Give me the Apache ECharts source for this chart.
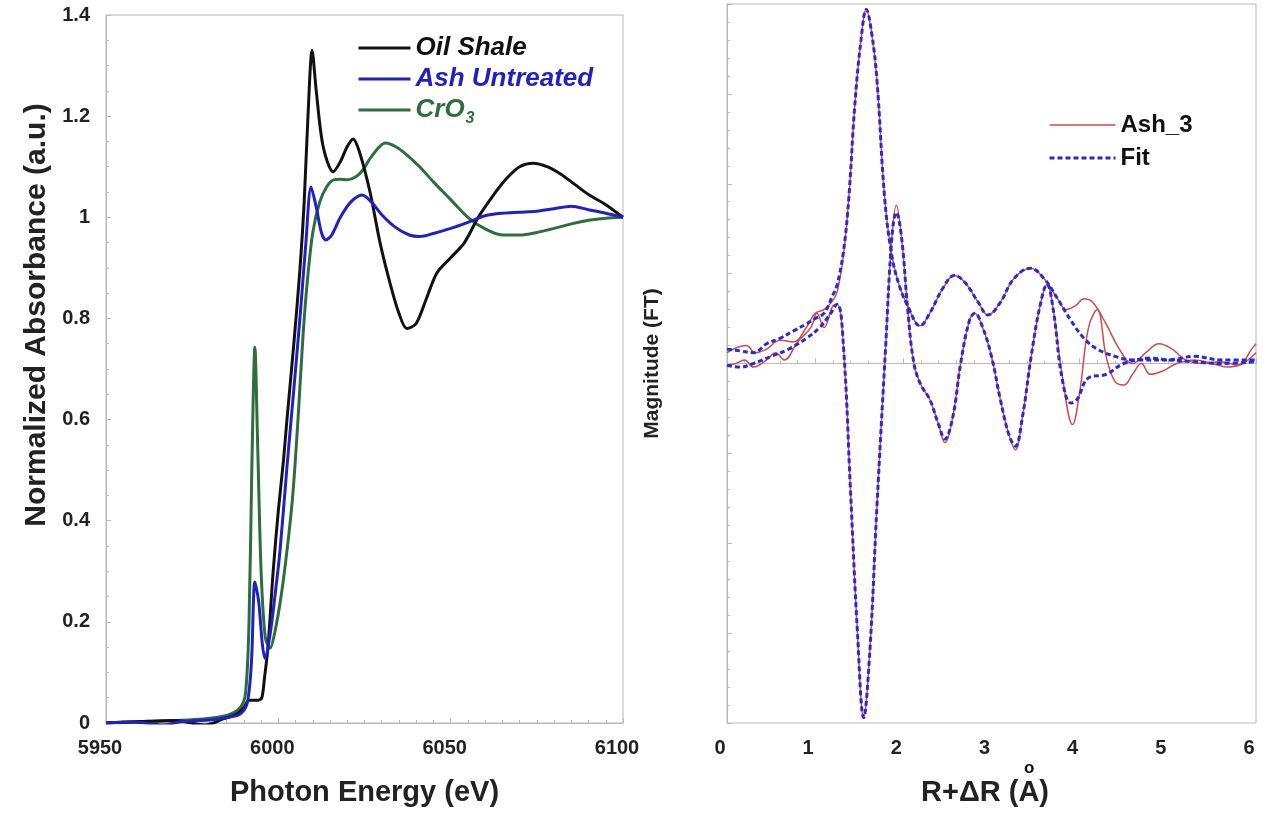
<!DOCTYPE html>
<html>
<head>
<meta charset="utf-8">
<script src="https://cdn.jsdelivr.net/npm/echarts@6/dist/echarts.min.js"></script>
<style>
html,body{margin:0;padding:0;background:#fff;}
#chart{width:1263px;height:814px;}
</style>
</head>
<body>
<div id="chart"></div>
<script>
// ---------- Left panel: XANES ----------
const oilShaleE = [5950,5960,5970,5978.7,5984,5988,5990,5991.5,5994,5995.2,5996,5997,5998.5,6000,6001.5,6002.5,6004.5,6006.3,6007.5,6008.6,6009.8,6011,6013,6015.9,6018,6020,6021.7,6023.5,6026.6,6029.5,6032.4,6035,6037.3,6040,6043,6046,6050,6054,6058,6062,6066,6070,6074,6078,6082,6086,6090,6095,6100];
const oilShale  = [0,0.003,0.005,-0.004,0.008,0.018,0.03,0.045,0.045,0.05,0.09,0.15,0.3,0.42,0.52,0.6,0.75,0.9,1.03,1.2,1.33,1.25,1.14,1.09,1.11,1.14,1.155,1.13,1.05,0.95,0.87,0.81,0.78,0.79,0.84,0.89,0.92,0.95,1.0,1.04,1.075,1.1,1.107,1.1,1.085,1.065,1.045,1.025,1.0];

const ashE = [5950,5958,5966.5,5972,5980,5986,5989,5991,5992.2,5993.2,5994.3,5995.3,5996.1,5997.5,5999,6000.5,6002.5,6004.5,6006.5,6008,6009.5,6011,6012.5,6013.8,6015.5,6018,6021,6024.3,6027,6030,6034,6038,6041,6045,6050,6055,6060,6065,6070,6075,6080,6085,6090,6095,6100];
const ashUntreated = [0,0.002,-0.004,0.003,0.006,0.012,0.018,0.04,0.12,0.279,0.24,0.16,0.128,0.17,0.25,0.342,0.506,0.66,0.82,0.95,1.06,1.02,0.97,0.955,0.965,1.0,1.03,1.044,1.03,1.005,0.98,0.965,0.962,0.968,0.978,0.99,1.003,1.008,1.01,1.012,1.017,1.022,1.015,1.008,1.0];

const croE = [5950,5960,5970,5978,5985,5988.9,5990.5,5991.5,5992.3,5993.2,5994,5995,5996.2,5997.6,5999,6001,6003,6004.3,6005.7,6007.2,6008.5,6010,6012,6014,6016,6018,6020,6022.5,6024.6,6027,6031,6034,6037,6041,6045,6050,6055,6060,6065,6070,6075,6080,6085,6090,6095,6100];
const cro3 = [0,0.002,0.005,0.008,0.015,0.03,0.06,0.2,0.5,0.743,0.55,0.3,0.17,0.148,0.18,0.26,0.37,0.46,0.6,0.77,0.88,0.97,1.03,1.06,1.074,1.075,1.074,1.08,1.094,1.12,1.147,1.14,1.125,1.1,1.07,1.035,1.0,0.977,0.965,0.965,0.97,0.978,0.987,0.994,0.998,1.0];

// ---------- Right panel: FT (magnitude & imaginary part) ----------
const ashMagR = [0,0.12,0.22,0.32,0.45,0.6,0.75,0.9,1.0,1.1,1.2,1.25,1.32,1.38,1.45,1.52,1.58,1.64,1.7,1.79,1.87,1.95,2.05,2.19,2.3,2.45,2.58,2.7,2.85,2.96,3.1,3.25,3.44,3.6,3.75,3.85,3.95,4.05,4.15,4.3,4.45,4.6,4.75,4.9,5.05,5.2,5.4,5.6,5.8,5.95,6.0];
const ashMag  = [0.03,0.045,0.05,0.03,0.04,0.065,0.06,0.1,0.14,0.15,0.175,0.2,0.3,0.455,0.72,0.9,0.985,0.92,0.79,0.455,0.3,0.22,0.16,0.105,0.14,0.21,0.245,0.225,0.17,0.135,0.17,0.235,0.265,0.235,0.18,0.15,0.16,0.18,0.17,0.11,0.04,0.0,0.03,0.055,0.04,0.01,0.0,0.005,-0.005,0.04,0.055];

const fitMagR = [0,0.15,0.3,0.45,0.6,0.75,0.9,1.0,1.1,1.2,1.25,1.32,1.38,1.45,1.52,1.58,1.64,1.7,1.79,1.87,1.95,2.05,2.19,2.3,2.45,2.58,2.7,2.85,2.96,3.1,3.25,3.44,3.6,3.75,3.9,4.05,4.2,4.4,4.6,4.8,5.0,5.3,5.6,6.0];
const fitMag  = [0.04,0.035,0.03,0.055,0.07,0.09,0.11,0.125,0.14,0.19,0.22,0.31,0.455,0.72,0.9,0.985,0.92,0.79,0.455,0.3,0.22,0.16,0.105,0.14,0.21,0.245,0.225,0.17,0.135,0.17,0.235,0.265,0.235,0.18,0.12,0.07,0.04,0.02,0.01,0.015,0.01,0.005,0.0,0.005];

const ashImR = [0,0.1,0.2,0.3,0.45,0.55,0.65,0.8,0.95,1.02,1.1,1.2,1.25,1.32,1.4,1.48,1.55,1.62,1.7,1.8,1.87,1.92,1.98,2.05,2.12,2.2,2.3,2.4,2.47,2.56,2.65,2.75,2.81,2.9,3.0,3.1,3.2,3.27,3.35,3.45,3.55,3.63,3.7,3.8,3.92,4.0,4.1,4.2,4.3,4.4,4.5,4.6,4.7,4.8,4.95,5.1,5.3,5.5,5.7,5.85,6.0];
const ashIm  = [-0.005,0.0,0.01,-0.01,0.01,0.03,0.01,0.06,0.1,0.14,0.1,0.16,0.165,0.05,-0.35,-0.75,-0.985,-0.8,-0.4,0.05,0.35,0.44,0.35,0.15,0.0,-0.06,-0.1,-0.17,-0.22,-0.15,0.0,0.12,0.14,0.1,0.02,-0.1,-0.2,-0.24,-0.15,0.02,0.16,0.22,0.15,-0.03,-0.17,-0.08,0.1,0.15,0.02,-0.05,-0.06,-0.03,0.0,-0.03,-0.02,0.0,0.01,0.0,-0.01,0.0,0.03];

const fitImR = [0,0.15,0.3,0.5,0.7,0.9,1.05,1.15,1.25,1.32,1.4,1.48,1.55,1.62,1.7,1.8,1.87,1.92,1.98,2.05,2.12,2.2,2.3,2.4,2.47,2.56,2.65,2.75,2.81,2.9,3.0,3.1,3.2,3.27,3.35,3.45,3.55,3.63,3.7,3.8,3.9,3.97,4.1,4.3,4.5,4.7,5.0,5.3,5.6,6.0];
const fitIm  = [-0.005,-0.01,0.0,0.02,0.04,0.07,0.1,0.13,0.165,0.05,-0.35,-0.75,-0.985,-0.8,-0.4,0.05,0.35,0.42,0.35,0.15,0.0,-0.06,-0.1,-0.17,-0.21,-0.15,0.0,0.12,0.14,0.1,0.02,-0.1,-0.2,-0.23,-0.15,0.02,0.16,0.22,0.15,-0.04,-0.11,-0.1,-0.04,-0.03,0.0,0.01,0.01,0.02,0.01,0.01];

const zip = (xs, ys) => xs.map((x, i) => [x, ys[i]]);

const FONT = '"Liberation Sans", Arial, Helvetica, sans-serif';
const axisGray = '#b8b8b8';
const labelStyle = {fontFamily: FONT, fontWeight: 'bold', fontSize: 20, color: '#222'};
const nameStyle = (size) => ({fontFamily: FONT, fontWeight: 'bold', fontSize: size, color: '#222'});
const BLACK = '#111111', BLUE = '#2020c4', GREEN = '#2e6e3c', RED = '#cc4c4c', FITBLUE = '#2a2ad0';

const chart = echarts.init(document.getElementById('chart'), null, {renderer: 'canvas'});

const option = {
  backgroundColor: '#fff',
  animation: false,
  grid: [
    {left: 106, top: 15, width: 517, height: 708, show: true, borderColor: axisGray, borderWidth: 1, backgroundColor: 'transparent'},
    {left: 727, top: 4, width: 529, height: 719, show: true, borderColor: axisGray, borderWidth: 1, backgroundColor: 'transparent'}
  ],
  legend: [
    {
      left: 352, top: 30, orient: 'vertical', itemGap: 5, itemWidth: 52, itemHeight: 12,
      itemStyle: {opacity: 0, borderWidth: 0},
      lineStyle: {width: 3},
      data: [
        {name: 'Oil Shale', textStyle: {color: BLACK}},
        {name: 'Ash Untreated', textStyle: {color: BLUE}},
        {name: 'CrO3', textStyle: {color: GREEN}}
      ],
      textStyle: {fontFamily: FONT, fontWeight: 'bold', fontStyle: 'italic', fontSize: 26,
        rich: {sub: {fontFamily: FONT, fontWeight: 'bold', fontStyle: 'italic', fontSize: 16, color: GREEN, padding: [18, 0, 0, 1]}}},
      formatter: n => n === 'CrO3' ? 'CrO{sub|3}' : n
    },
    {
      left: 1043, top: 108, orient: 'vertical', itemGap: 9, itemWidth: 66, itemHeight: 14,
      itemStyle: {opacity: 0, borderWidth: 0},
      data: [
        {name: 'Ash_3', lineStyle: {width: 1.5}},
        {name: 'Fit', lineStyle: {width: 3}}
      ],
      textStyle: {fontFamily: FONT, fontWeight: 'bold', fontSize: 24, color: BLACK}
    }
  ],
  xAxis: [
    {
      gridIndex: 0, type: 'value', min: 5950, max: 6100, interval: 50,
      name: 'Photon Energy (eV)', nameLocation: 'middle', nameGap: 55, nameTextStyle: nameStyle(29),
      axisLine: {lineStyle: {color: axisGray}},
      axisTick: {inside: true, length: 5, lineStyle: {color: axisGray}},
      minorTick: {show: true, splitNumber: 10, length: 3, lineStyle: {color: axisGray}},
      axisLabel: Object.assign({margin: 15, padding: [0, 12, 0, 0], formatter: v => String(v)}, labelStyle),
      splitLine: {show: false}
    },
    {
      gridIndex: 1, type: 'value', min: 0, max: 6, interval: 1,
      name: 'R+ΔR (A)', nameLocation: 'middle', nameGap: 55, nameTextStyle: Object.assign({padding: [0, 13, 0, 0]}, nameStyle(29)),
      axisLine: {lineStyle: {color: axisGray}},
      axisTick: {inside: true, length: 5, lineStyle: {color: axisGray}},
      minorTick: {show: true, splitNumber: 5, length: 3, lineStyle: {color: axisGray}},
      axisLabel: Object.assign({margin: 15, padding: [0, 14, 0, 0]}, labelStyle),
      splitLine: {show: false}
    }
  ],
  yAxis: [
    {
      gridIndex: 0, type: 'value', min: 0, max: 1.4, interval: 0.2,
      name: 'Normalized Absorbance (a.u.)', nameLocation: 'middle', nameGap: 54,
      nameTextStyle: Object.assign({padding: [0, 0, 0, 108]}, nameStyle(30)),
      axisLine: {lineStyle: {color: axisGray}},
      axisTick: {inside: true, length: 5, lineStyle: {color: axisGray}},
      minorTick: {show: true, splitNumber: 4, length: 3, lineStyle: {color: axisGray}},
      axisLabel: Object.assign({margin: 16}, labelStyle),
      splitLine: {show: false}
    },
    {
      gridIndex: 1, type: 'value', min: -1, max: 1, interval: 0.25,
      name: 'Magnitude (FT)', nameLocation: 'middle', nameGap: 64, nameTextStyle: nameStyle(21),
      axisLine: {lineStyle: {color: axisGray}},
      axisTick: {inside: true, length: 5, lineStyle: {color: axisGray}},
      minorTick: {show: true, splitNumber: 5, length: 3, lineStyle: {color: axisGray}},
      axisLabel: {show: false},
      splitLine: {show: false}
    }
  ],
  graphic: [
    {type: 'text', left: 1024, top: 760, style: {text: 'o', font: 'bold 17px ' + FONT, fill: '#111'}}
  ],
  series: [
    {name: 'Oil Shale', type: 'line', xAxisIndex: 0, yAxisIndex: 0, data: zip(oilShaleE, oilShale), smooth: 0.3, symbol: 'none', lineStyle: {color: BLACK, width: 3}, itemStyle: {color: BLACK}, z: 3},
    {name: 'Ash Untreated', type: 'line', xAxisIndex: 0, yAxisIndex: 0, data: zip(ashE, ashUntreated), smooth: 0.3, symbol: 'none', lineStyle: {color: BLUE, width: 3}, itemStyle: {color: BLUE}, z: 4},
    {name: 'CrO3', type: 'line', xAxisIndex: 0, yAxisIndex: 0, data: zip(croE, cro3), smooth: 0.3, symbol: 'none', lineStyle: {color: GREEN, width: 3}, itemStyle: {color: GREEN}, z: 2},

    {name: 'Ash_3', type: 'line', xAxisIndex: 1, yAxisIndex: 1, data: zip(ashMagR, ashMag), smooth: 0.4, symbol: 'none', lineStyle: {color: RED, width: 1.5}, itemStyle: {color: RED}, z: 2},
    {name: 'Ash_3', type: 'line', xAxisIndex: 1, yAxisIndex: 1, data: zip(ashImR, ashIm), smooth: 0.4, symbol: 'none', lineStyle: {color: RED, width: 1.5}, itemStyle: {color: RED}, z: 2},
    {name: 'Fit', type: 'line', xAxisIndex: 1, yAxisIndex: 1, data: zip(fitMagR, fitMag), smooth: 0.4, symbol: 'none', lineStyle: {color: FITBLUE, width: 3, type: [5, 3]}, itemStyle: {color: FITBLUE}, z: 3},
    {name: 'Fit', type: 'line', xAxisIndex: 1, yAxisIndex: 1, data: zip(fitImR, fitIm), smooth: 0.4, symbol: 'none', lineStyle: {color: FITBLUE, width: 3, type: [5, 3]}, itemStyle: {color: FITBLUE}, z: 3}
  ]
};
chart.setOption(option);
</script>
</body>
</html>
